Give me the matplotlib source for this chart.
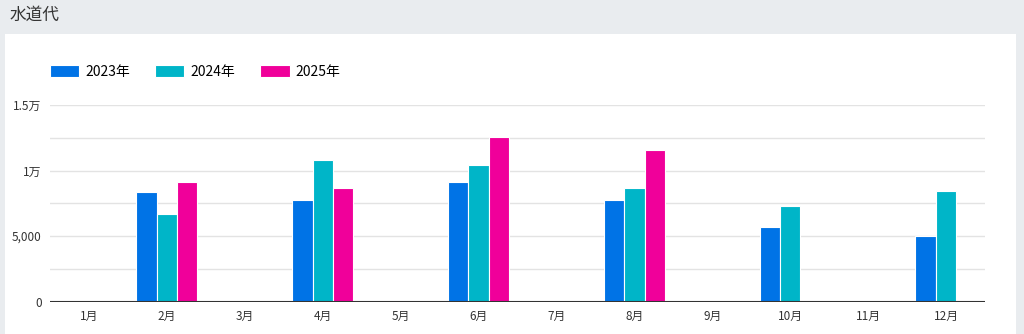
import matplotlib.pyplot as plt
import numpy as np
from matplotlib.patches import Rectangle

plt.rcParams['font.family'] = ['Noto Sans CJK JP', 'DejaVu Sans']

months = ['1月', '2月', '3月', '4月', '5月', '6月', '7月', '8月', '9月', '10月', '11月', '12月']
y2023 = [0, 8400, 0, 7750, 0, 9150, 0, 7750, 0, 5700, 0, 5030]
y2024 = [0, 6650, 0, 10800, 0, 10450, 0, 8700, 0, 7320, 0, 8420]
y2025 = [0, 9150, 0, 8700, 0, 12550, 0, 11550, 0, 0, 0, 0]
labels = ['2023年', '2024年', '2025年']
colors = ['#0073e6', '#00b5c8', '#f0009a']

fig = plt.figure(figsize=(10.24, 3.34), dpi=100, facecolor='#e9ecef')
fig.patches.append(Rectangle((5 / 1024, 0), 1011 / 1024, 300 / 334,
                             transform=fig.transFigure, facecolor='white',
                             edgecolor='none', zorder=-10))
fig.text(10 / 1024, 1 - 15 / 334, '水道代', fontsize=12, color='#333333',
         va='center', ha='left')

ax = fig.add_axes([50 / 1024, 32.3 / 334, 935 / 1024, 196.7 / 334])
ax.set_facecolor('none')
ax.set_zorder(2)

x = np.arange(len(months))
w = 0.262
for i, (vals, lab, c) in enumerate(zip([y2023, y2024, y2025], labels, colors)):
    ax.bar(x + (i - 1) * w, vals, width=w, color=c, edgecolor='white',
           linewidth=0.8, label=lab, zorder=3)

ax.set_xlim(-0.5, 11.5)
ax.set_ylim(0, 15000)
ax.set_xticks(x)
ax.set_xticklabels(months, fontsize=8.5, color='#333333')
ticks = np.arange(0, 15001, 2500)
ax.set_yticks(ticks)
tick_text = {0: '0', 5000: '5,000', 10000: '1万', 15000: '1.5万'}
ax.set_yticklabels([tick_text.get(int(t), '') for t in ticks], fontsize=8.5, color='#333333')
ax.tick_params(length=0, pad=6)
ax.grid(axis='y', color='#e3e3e3', linewidth=1, zorder=0)
for s in ax.spines.values():
    s.set_visible(False)
ax.axhline(0, color='#333333', linewidth=1.5, zorder=5)

leg = ax.legend(loc='center left', bbox_to_anchor=(0, 1.168), ncol=3, frameon=False,
                fontsize=10, handlelength=2.1, handleheight=1.0, columnspacing=1.8,
                handletextpad=0.45, borderaxespad=0, borderpad=0)

fig.savefig('out.png', dpi=100, facecolor=fig.get_facecolor())
